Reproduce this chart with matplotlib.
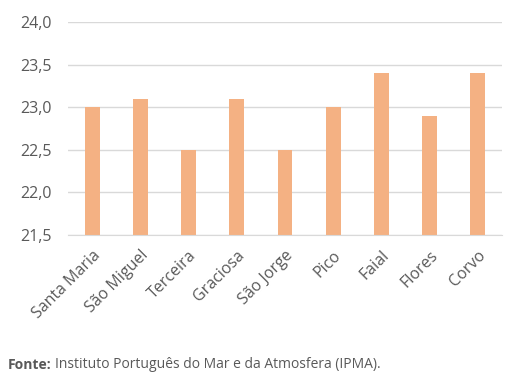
import matplotlib
matplotlib.use("Agg")
import matplotlib.pyplot as plt

categories = ["Santa Maria", "São Miguel", "Terceira", "Graciosa", "São Jorge", "Pico", "Faial", "Flores", "Corvo"]
values = [23.0, 23.1, 22.5, 23.1, 22.5, 23.0, 23.4, 22.9, 23.4]
yticks = [21.5, 22.0, 22.5, 23.0, 23.5, 24.0]

plt.rcParams['font.family'] = ['Open Sans', 'DejaVu Sans']

fig = plt.figure(figsize=(5.2, 3.8), dpi=100)
ax = fig.add_axes([68/520, 1 - 235/380, 434/520, (235 - 22)/380])

x = list(range(len(categories)))
ax.bar(x, [v - 21.5 for v in values], bottom=21.5, width=0.31, color="#F4B183", zorder=3)
ax.set_ylim(21.5, 24.0)
ax.set_xlim(-0.5, len(categories) - 0.5)
ax.set_yticks(yticks)
ax.set_yticklabels([f"{t:.1f}".replace(".", ",") for t in yticks], color="#595959", fontsize=11.5)
ax.set_xticks(x)
ax.set_xticklabels(categories, rotation=45, ha="right", rotation_mode="anchor", color="#595959", fontsize=11.5)
ax.tick_params(axis="x", length=0, pad=9)
ax.tick_params(axis="y", length=0, pad=12)
ax.grid(axis="y", color="#D9D9D9", linewidth=1, zorder=0)
for s in ["top", "right", "left"]:
    ax.spines[s].set_visible(False)
ax.spines["bottom"].set_color("#D9D9D9")
ax.spines["bottom"].set_zorder(4)

fig.text(8/520, 1 - 365/380, "Fonte:", fontsize=10, fontweight="bold", color="#595959", va="center")
fig.text(55/520, 1 - 365/380, "Instituto Português do Mar e da Atmosfera (IPMA).", fontsize=10, color="#595959", va="center")

fig.savefig("out.png", dpi=100)
